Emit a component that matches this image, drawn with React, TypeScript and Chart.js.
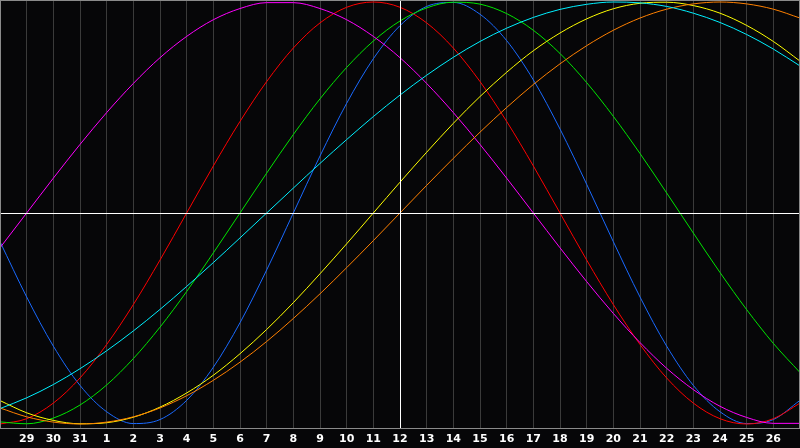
import { useEffect, useRef } from 'react';
import { Chart, registerables } from 'chart.js';

Chart.register(...registerables);

// Day labels (28 of previous month through 27)
const days = ['28', '29', '30', '31', '1', '2', '3', '4', '5', '6', '7', '8', '9', '10', '11', '12', '13', '14', '15', '16', '17', '18', '19', '20', '21', '22', '23', '24', '25', '26', '27'];
const todayIndex = 15; // day 12

const physical = [-0.136, -0.398, -0.631, -0.817, -0.942, -0.998, -0.979, -0.888, -0.731, -0.520, -0.270, 0, 0.270, 0.520, 0.731, 0.888, 0.979, 0.998, 0.942, 0.817, 0.631, 0.398, 0.136, -0.136, -0.398, -0.631, -0.817, -0.942, -0.998, -0.979, -0.888];
const emotional = [-1, -0.975, -0.901, -0.782, -0.623, -0.434, -0.223, 0, 0.223, 0.434, 0.623, 0.782, 0.901, 0.975, 1, 0.975, 0.901, 0.782, 0.623, 0.434, 0.223, 0, -0.223, -0.434, -0.623, -0.782, -0.901, -0.975, -1, -0.975, -0.901];
const intellectual = [-0.990, -0.999, -0.972, -0.910, -0.815, -0.690, -0.541, -0.372, -0.189, 0, 0.189, 0.372, 0.541, 0.690, 0.815, 0.910, 0.972, 0.999, 0.990, 0.945, 0.866, 0.756, 0.618, 0.458, 0.282, 0.095, -0.095, -0.282, -0.458, -0.618, -0.756];
const intuitive = [-0.165, 0, 0.165, 0.325, 0.476, 0.614, 0.736, 0.837, 0.916, 0.969, 0.997, 0.997, 0.969, 0.916, 0.837, 0.736, 0.614, 0.476, 0.325, 0.165, 0, -0.165, -0.325, -0.476, -0.614, -0.736, -0.837, -0.916, -0.969, -0.997, -0.997];
const aesthetic = [-0.889, -0.947, -0.983, -0.999, -0.994, -0.968, -0.920, -0.853, -0.769, -0.667, -0.552, -0.425, -0.288, -0.146, 0, 0.146, 0.288, 0.425, 0.552, 0.667, 0.769, 0.853, 0.920, 0.968, 0.994, 0.999, 0.983, 0.947, 0.889, 0.813, 0.720];
const awareness = [-0.924, -0.966, -0.991, -1, -0.991, -0.966, -0.924, -0.866, -0.793, -0.707, -0.609, -0.5, -0.383, -0.259, -0.131, 0, 0.131, 0.259, 0.383, 0.5, 0.609, 0.707, 0.793, 0.866, 0.924, 0.966, 0.991, 1, 0.991, 0.966, 0.924];
const spiritual = [-0.927, -0.876, -0.813, -0.738, -0.653, -0.559, -0.457, -0.348, -0.235, -0.118, 0, 0.118, 0.235, 0.348, 0.457, 0.559, 0.653, 0.738, 0.813, 0.876, 0.927, 0.965, 0.989, 1.000, 0.996, 0.979, 0.947, 0.903, 0.846, 0.777, 0.697];

const series = [
  { label: 'Spiritual', data: spiritual, color: '#00f0ff' },
  { label: 'Awareness', data: awareness, color: '#ff8000' },
  { label: 'Aesthetic', data: aesthetic, color: '#ffff00' },
  { label: 'Intuitive', data: intuitive, color: '#ff00ff' },
  { label: 'Intellectual', data: intellectual, color: '#00e600' },
  { label: 'Emotional', data: emotional, color: '#ff0000' },
  { label: 'Physical', data: physical, color: '#1a6aff' },
];

const refLines = {
  id: 'refLines',
  afterDatasetsDraw(chart: any) {
    const { ctx, chartArea, scales } = chart;
    const x = scales.x;
    const y = scales.y;
    ctx.save();
    ctx.lineWidth = 1;
    ctx.strokeStyle = '#ffffff';
    const yz = Math.round(y.getPixelForValue(0)) + 0.5;
    const xt = Math.round(x.getPixelForValue(todayIndex)) + 0.5;
    ctx.beginPath();
    ctx.moveTo(chartArea.left, yz);
    ctx.lineTo(chartArea.right, yz);
    ctx.moveTo(xt, chartArea.top);
    ctx.lineTo(xt, chartArea.bottom);
    ctx.stroke();
    ctx.strokeStyle = '#8a8a8a';
    ctx.strokeRect(chartArea.left + 0.5, chartArea.top + 0.5, chartArea.right - chartArea.left - 1, chartArea.bottom - chartArea.top);
    ctx.restore();
  },
};

export default function App() {
  const ref = useRef<HTMLCanvasElement | null>(null);
  useEffect(() => {
    document.body.style.margin = '0';
    if (!ref.current) return;
    const chart = new Chart(ref.current, {
      type: 'line',
      data: {
        labels: days,
        datasets: series.map((s) => ({
          label: s.label,
          data: s.data,
          borderColor: s.color,
          backgroundColor: s.color,
          borderWidth: 1,
          pointRadius: 0,
          cubicInterpolationMode: 'monotone',
          fill: false,
        })),
      },
      options: {
        responsive: false,
        animation: false,
        devicePixelRatio: 1,
        layout: { padding: 0, autoPadding: false },
        plugins: { legend: { display: false }, tooltip: { enabled: false } },
        scales: {
          x: {
            type: 'category',
            offset: false,
            grid: { color: '#3a3a3a', drawTicks: true, tickLength: 5, tickColor: 'rgba(0,0,0,0)', lineWidth: 1 },
            border: { display: false },
            ticks: {
              color: '#ffffff',
              font: { family: 'DejaVu Sans', size: 11, weight: 'bold' },
              padding: 0,
              autoSkip: false,
              maxRotation: 0,
              callback: (_v: any, i: number) => (i === 0 || i === days.length - 1 ? '' : days[i]),
            },
            afterFit: (s: any) => {
              s.height = 20;
            },
          },
          y: { display: false, min: -1.019, max: 1.0095 },
        },
      },
      plugins: [refLines],
    });
    return () => chart.destroy();
  }, []);
  return (
    <div style={{ width: 800, height: 448, background: '#060608' }}>
      <canvas ref={ref} width={800} height={448} style={{ display: 'block' }} />
    </div>
  );
}
